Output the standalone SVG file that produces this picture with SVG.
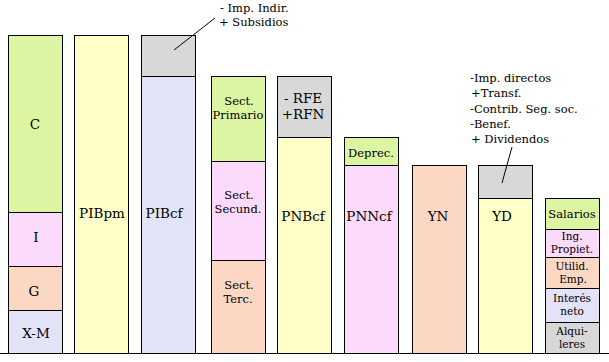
<svg xmlns="http://www.w3.org/2000/svg" width="609" height="362" viewBox="0 0 609 362">
<style>
rect{stroke:#000;stroke-width:1}
.g{fill:#dcf5a2}.p{fill:#fcdafc}.s{fill:#fcd8c4}.l{fill:#e3e3f8}.y{fill:#ffffc8}.k{fill:#d8d8d8}
text{fill:#000;text-anchor:middle}
.b{font-size:13.5px}.m{font-size:11.5px}.t{font-size:10.5px}
.n{font-size:11.5px;text-anchor:start}
</style>
<rect width="609" height="362" fill="#fff" style="stroke:none"/>
<g font-family="'DejaVu Serif', 'Liberation Serif', serif">
<g id="col1">
<rect class="g" x="8.5" y="35.5" width="54" height="177"/>
<rect class="p" x="8.5" y="212.5" width="54" height="54"/>
<rect class="s" x="8.5" y="266.5" width="54" height="44"/>
<rect class="l" x="8.5" y="310.5" width="54" height="43"/>
<text class="b" x="35" y="129">C</text>
<text class="b" x="36" y="242">I</text>
<text class="b" x="34" y="296">G</text>
<text class="b" x="36" y="338">X-M</text>
</g>
<g id="col2">
<rect class="y" x="74.5" y="35.5" width="54" height="318"/>
<text class="b" x="102" y="218">PIBpm</text>
</g>
<g id="col3">
<rect class="k" x="141.5" y="35.5" width="54" height="41"/>
<rect class="l" x="141.5" y="76.5" width="54" height="277"/>
<text class="b" x="164" y="218">PIBcf</text>
<text class="n" x="220" y="12">- Imp. Indir.</text>
<text class="n" x="219" y="26">+ Subsidios</text>
</g>
<g id="col4">
<rect class="g" x="211.5" y="76.5" width="54" height="85"/>
<rect class="p" x="211.5" y="161.5" width="54" height="99"/>
<rect class="s" x="211.5" y="260.5" width="54" height="93"/>
<text class="m" x="239" y="105">Sect.</text>
<text class="m" x="238" y="119">Primario</text>
<text class="m" x="239" y="199">Sect.</text>
<text class="m" x="238" y="213">Secund.</text>
<text class="m" x="239" y="289">Sect.</text>
<text class="m" x="238" y="303">Terc.</text>
</g>
<g id="col5">
<rect class="k" x="277.5" y="76.5" width="54" height="61"/>
<rect class="y" x="277.5" y="137.5" width="54" height="216"/>
<text class="b" x="303" y="103">- RFE</text>
<text class="b" x="303" y="119">+RFN</text>
<text class="b" x="303" y="221">PNBcf</text>
</g>
<g id="col6">
<rect class="g" x="344.5" y="137.5" width="54" height="28"/>
<rect class="p" x="344.5" y="165.5" width="54" height="188"/>
<text class="m" x="371" y="157">Deprec.</text>
<text class="b" x="369" y="221">PNNcf</text>
</g>
<g id="col7">
<rect class="s" x="412.5" y="165.5" width="54" height="188"/>
<text class="b" x="438" y="221">YN</text>
</g>
<g id="col8">
<rect class="k" x="478.5" y="165.5" width="54" height="33"/>
<rect class="y" x="478.5" y="198.5" width="54" height="155"/>
<text class="b" x="502" y="221">YD</text>
<text class="n" x="470" y="82">-Imp. directos</text>
<text class="n" x="471" y="97">+Transf.</text>
<text class="n" x="470" y="113">-Contrib. Seg. soc.</text>
<text class="n" x="470" y="128">-Benef.</text>
<text class="n" x="471" y="143">+ Dividendos</text>
</g>
<g id="col9">
<rect class="g" x="545.5" y="198.5" width="54" height="31"/>
<rect class="p" x="545.5" y="229.5" width="54" height="28"/>
<rect class="s" x="545.5" y="257.5" width="54" height="31"/>
<rect class="l" x="545.5" y="288.5" width="54" height="34"/>
<rect class="k" x="545.5" y="322.5" width="54" height="31"/>
<text class="m" x="572" y="218">Salarios</text>
<text class="t" x="572" y="240">Ing.</text>
<text class="t" x="572" y="252.5">Propiet.</text>
<text class="t" x="572" y="270">Utilid.</text>
<text class="t" x="573" y="282.5">Emp.</text>
<text class="t" x="572" y="302">Interés</text>
<text class="t" x="572" y="315">neto</text>
<text class="t" x="572" y="335">Alqui-</text>
<text class="t" x="572" y="347.5">leres</text>
</g>
</g>
<g id="connectors" stroke="#000" stroke-width="1" fill="none">
<line x1="0" y1="353.5" x2="609" y2="353.5"/>
<line x1="174" y1="50" x2="215" y2="18"/>
<line x1="512" y1="147" x2="502" y2="183"/>
</g>
</svg>
